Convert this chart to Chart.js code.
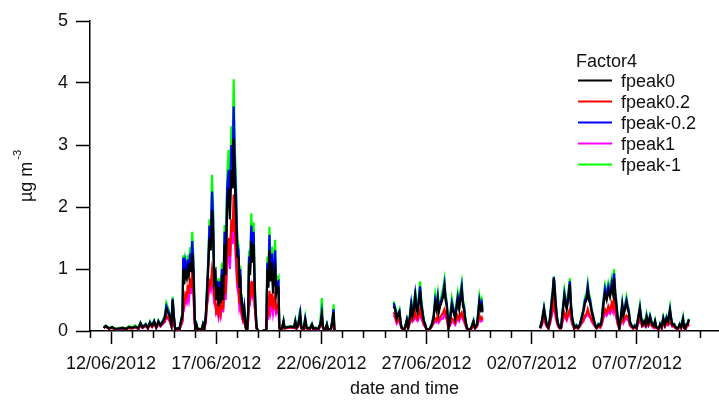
<!DOCTYPE html>
<html>
<head>
<meta charset="utf-8">
<script src="https://cdn.jsdelivr.net/npm/chart.js@4.4.0/dist/chart.umd.min.js"></script>
<style>
  html, body { margin: 0; padding: 0; background: #fff; }
  #wrap { width: 719px; height: 402px; position: relative; }
</style>
</head>
<body>
<div id="wrap"><canvas id="chart"></canvas></div>
<script>
// DATI - giorni dal 11/06/2012 00:00, null = interruzione della serie
const days = [
  0.65,0.75,0.90,1.05,1.20,1.40,1.55,1.70,1.85,2.00,
  2.15,2.30,2.40,2.50,2.65,2.75,2.85,2.95,3.05,3.15,
  3.25,3.35,3.45,3.55,3.63,3.70,3.80,3.87,3.93,3.98,
  4.05,4.15,4.25,4.33,4.40,4.43,4.48,4.53,4.60,4.65,
  4.70,4.76,4.80,4.86,4.92,4.97,5.00,5.06,5.12,5.20,
  5.30,5.37,5.43,5.50,5.56,5.62,5.68,5.74,5.80,5.85,
  5.90,5.96,6.00,6.06,6.11,6.16,6.21,6.27,6.33,6.40,
  6.45,6.52,6.59,6.65,6.72,6.78,6.83,6.88,6.94,7.00,
  7.06,7.10,7.14,7.18,7.22,7.28,7.33,7.38,7.41,7.47,
  7.52,7.56,7.61,7.67,7.72,7.78,7.82,7.86,7.92,8.00,
  8.20,8.38,8.43,8.48,8.53,8.58,8.65,8.70,8.75,8.80,
  8.85,8.90,8.96,9.00,9.05,9.13,9.20,9.25,9.40,9.55,
  9.70,9.76,9.82,9.90,9.99,10.05,10.15,10.23,10.30,10.45,
  10.55,10.62,10.70,10.85,10.95,11.02,11.08,11.18,11.26,11.32,
  11.45,11.52,11.58,11.62,13.00,
  14.43,14.50,14.58,14.65,14.71,14.78,14.82,14.95,15.06,15.12,
  15.20,15.27,15.33,15.40,15.46,15.52,15.57,15.63,15.69,15.75,
  15.80,15.87,15.93,16.00,16.15,16.25,16.33,16.41,16.47,16.53,
  16.58,16.64,16.70,16.78,16.85,16.90,16.96,17.04,17.10,17.20,
  17.28,17.36,17.42,17.48,17.55,17.60,17.67,17.73,17.78,17.83,
  17.91,18.00,18.10,18.23,18.30,18.40,18.45,18.51,18.57,18.62,
  18.66,20.00,
  21.40,21.48,21.58,21.65,21.71,21.79,21.87,21.95,22.00,22.05,
  22.10,22.14,22.20,22.26,22.33,22.39,22.47,22.55,22.60,22.66,
  22.73,22.81,22.86,22.92,23.02,23.12,23.20,23.29,23.37,23.45,
  23.53,23.60,23.66,23.72,23.77,23.85,23.93,24.00,24.08,24.17,
  24.25,24.32,24.40,24.48,24.56,24.64,24.72,24.80,24.86,24.91,
  24.97,25.04,25.08,25.16,25.23,25.30,25.36,25.43,25.50,25.56,
  25.61,25.66,25.71,25.82,25.90,25.98,26.06,26.14,26.20,26.25,
  26.35,26.41,26.46,26.54,26.62,26.68,26.73,26.80,26.86,26.92,
  26.97,27.04,27.10,27.17,27.25,27.33,27.41,27.48,27.57,27.62,
  27.68,27.77,27.83,27.88,27.95,28.03,28.10,28.19,28.25,28.30,
  28.36,28.42,28.47
];

const fpeak0 = [
  .05,.08,.04,.06,.03,.04,.05,.03,.06,.05,
  .07,.04,.12,.06,.10,.05,.13,.08,.15,.06,
  .15,.09,.14,.20,.35,.30,.22,.10,.50,.25,
  .02,.04,.03,.15,.25,1.00,.75,.95,.85,1.00,
  .90,1.10,.95,1.25,.90,.30,.05,.10,.02,.03,
  .02,.10,.03,.20,.60,1.00,1.50,1.30,1.95,1.60,
  .80,.90,.50,.65,.40,.70,.45,.90,.50,1.40,
  .90,2.00,2.30,1.80,2.60,2.30,3.10,2.40,1.90,1.20,
  1.20,.70,.90,.50,.40,.25,.35,.15,.05,.00,
  .30,1.10,.90,1.45,1.10,1.40,.80,.40,.05,.00,
  .00,.02,1.00,.70,1.30,.80,1.10,.60,.90,1.00,
  .60,.70,.70,.05,.02,.05,.15,.05,.06,.07,
  .06,.15,.05,.10,.25,.05,.03,.18,.05,.04,
  .10,.03,.05,.03,.10,.25,.05,.02,.10,.02,
  .03,.15,.30,.00,null,
  .40,.35,.20,.25,.30,.10,.05,.02,.17,.05,
  .20,.40,.25,.35,.55,.35,.30,.45,.65,.40,
  .30,.15,.10,.02,.03,.10,.20,.45,.35,.50,
  .30,.40,.45,.55,.70,.50,.40,.05,.15,.40,
  .30,.20,.35,.50,.35,.50,.65,.40,.35,.20,
  .05,.02,.03,.15,.05,.10,.25,.45,.35,.40,
  .30,null,
  .05,.15,.35,.20,.10,.05,.20,.45,.60,.85,
  .60,.40,.20,.10,.05,.05,.30,.55,.45,.35,
  .50,.75,.40,.20,.05,.08,.05,.10,.20,.30,
  .45,.50,.65,.50,.45,.30,.20,.10,.05,.10,
  .08,.15,.40,.60,.50,.65,.55,.70,.60,.85,
  .55,.35,.20,.05,.20,.40,.25,.35,.45,.35,
  .30,.15,.10,.05,.08,.05,.20,.35,.20,.10,
  .15,.10,.22,.12,.22,.15,.10,.08,.15,.06,
  .05,.04,.10,.06,.20,.10,.20,.15,.32,.20,
  .10,.10,.06,.05,.04,.10,.06,.18,.05,.04,
  .10,.12,.18
];

const fpeak02 = [
  .05,.07,.04,.05,.03,.04,.05,.03,.05,.04,
  .06,.04,.10,.05,.09,.04,.11,.07,.12,.05,
  .12,.08,.12,.16,.25,.22,.16,.08,.35,.18,
  .02,.03,.03,.10,.18,.55,.45,.60,.55,.75,
  .60,.85,.70,.95,.65,.20,.04,.08,.02,.03,
  .02,.08,.03,.15,.45,.65,.80,.75,1.00,.90,
  .55,.50,.32,.40,.28,.40,.30,.55,.35,.90,
  .60,1.30,1.50,1.20,1.80,1.60,2.20,1.70,1.30,.80,
  .75,.45,.55,.35,.28,.18,.25,.12,.04,.00,
  .20,.65,.55,.80,.65,.80,.50,.28,.04,.00,
  .00,.02,.35,.30,.65,.40,.60,.35,.50,.60,
  .35,.40,.45,.04,.02,.04,.12,.04,.05,.06,
  .05,.12,.04,.08,.18,.04,.03,.13,.04,.03,
  .08,.03,.04,.03,.08,.18,.04,.02,.08,.02,
  .03,.11,.20,.00,null,
  .30,.25,.15,.18,.20,.08,.04,.02,.12,.04,
  .14,.25,.18,.22,.30,.22,.20,.28,.35,.25,
  .20,.11,.08,.02,.03,.08,.14,.20,.18,.25,
  .18,.22,.25,.30,.35,.28,.22,.04,.10,.20,
  .18,.13,.20,.25,.20,.26,.30,.22,.20,.13,
  .04,.02,.03,.10,.04,.08,.16,.25,.20,.22,
  .18,null,
  .04,.11,.25,.14,.08,.04,.14,.30,.38,.50,
  .38,.26,.14,.08,.04,.04,.18,.30,.26,.20,
  .28,.35,.24,.13,.04,.06,.04,.08,.14,.18,
  .25,.28,.35,.28,.25,.18,.13,.08,.04,.08,
  .06,.11,.24,.35,.30,.40,.33,.45,.38,.55,
  .35,.22,.13,.04,.14,.25,.16,.22,.25,.22,
  .19,.11,.08,.04,.06,.04,.14,.20,.14,.08,
  .11,.08,.15,.09,.15,.11,.08,.06,.11,.05,
  .04,.03,.08,.05,.14,.08,.14,.11,.15,.13,
  .08,.08,.05,.04,.03,.08,.05,.13,.04,.03,
  .08,.09,.12
];

const fpeakM02 = [
  .05,.08,.04,.06,.03,.04,.05,.03,.06,.05,
  .07,.04,.13,.06,.11,.05,.14,.08,.16,.06,
  .16,.10,.15,.22,.40,.34,.25,.11,.52,.27,
  .02,.04,.03,.17,.28,1.18,.85,1.10,.95,1.15,
  1.00,1.25,1.08,1.45,1.05,.35,.05,.11,.02,.03,
  .02,.11,.03,.22,.65,1.10,1.70,1.45,2.25,1.85,
  .90,.95,.55,.80,.45,.80,.50,1.00,.58,1.60,
  1.05,2.30,2.60,2.05,3.00,2.70,3.62,2.80,2.20,1.40,
  1.30,.80,1.00,.55,.45,.28,.40,.17,.05,.00,
  .34,1.20,1.00,1.70,1.25,1.60,.90,.45,.05,.00,
  .00,.02,1.10,.78,1.55,.90,1.25,.70,1.05,1.30,
  .70,.78,.80,.05,.02,.05,.16,.05,.06,.07,
  .06,.16,.05,.11,.30,.05,.03,.20,.05,.04,
  .11,.03,.05,.03,.12,.30,.05,.02,.11,.02,
  .03,.17,.35,.00,null,
  .45,.38,.22,.28,.32,.11,.05,.02,.18,.05,
  .22,.45,.28,.40,.60,.40,.33,.50,.72,.45,
  .33,.16,.11,.02,.03,.11,.22,.50,.40,.55,
  .34,.44,.50,.60,.76,.55,.44,.05,.16,.46,
  .34,.22,.40,.55,.40,.56,.72,.45,.39,.22,
  .05,.02,.03,.16,.05,.11,.28,.50,.39,.45,
  .34,null,
  .05,.16,.37,.22,.11,.05,.22,.50,.65,.87,
  .65,.44,.22,.11,.05,.05,.33,.60,.50,.39,
  .55,.80,.44,.22,.05,.09,.05,.11,.22,.33,
  .50,.55,.72,.55,.50,.33,.22,.11,.05,.11,
  .09,.16,.45,.68,.56,.72,.62,.78,.68,.93,
  .61,.39,.22,.05,.22,.44,.28,.39,.50,.39,
  .33,.16,.11,.05,.09,.05,.22,.38,.22,.11,
  .16,.11,.24,.13,.24,.16,.11,.09,.16,.06,
  .05,.04,.11,.06,.21,.11,.22,.16,.35,.22,
  .11,.11,.06,.05,.04,.11,.06,.20,.05,.04,
  .11,.13,.19
];

const fpeak1 = [
  .05,.07,.04,.05,.03,.03,.04,.03,.05,.04,
  .06,.03,.09,.05,.08,.04,.10,.06,.11,.05,
  .11,.07,.11,.14,.22,.20,.15,.07,.30,.16,
  .02,.03,.02,.09,.15,.45,.38,.50,.45,.60,
  .50,.70,.60,.85,.55,.18,.04,.07,.02,.02,
  .02,.07,.02,.13,.40,.55,.70,.65,.90,.75,
  .45,.40,.28,.30,.22,.35,.25,.45,.30,.75,
  .50,1.10,1.30,1.00,1.55,1.40,1.90,1.50,1.10,.70,
  .60,.38,.45,.30,.22,.15,.20,.10,.04,.00,
  .18,.55,.48,.70,.58,.70,.42,.25,.04,.00,
  .00,.02,.25,.22,.45,.30,.45,.28,.40,.45,
  .28,.32,.35,.04,.02,.04,.10,.04,.05,.05,
  .05,.10,.04,.07,.15,.04,.02,.11,.04,.03,
  .07,.02,.04,.02,.07,.15,.04,.02,.07,.02,
  .02,.10,.17,.00,null,
  .25,.22,.12,.15,.17,.07,.04,.02,.10,.04,
  .12,.20,.15,.18,.25,.18,.16,.22,.30,.20,
  .16,.09,.07,.02,.02,.07,.12,.15,.14,.20,
  .14,.17,.20,.20,.30,.22,.18,.04,.08,.15,
  .14,.10,.16,.20,.16,.22,.25,.18,.16,.10,
  .04,.02,.02,.08,.04,.07,.13,.20,.16,.18,
  .15,null,
  .04,.09,.20,.12,.07,.04,.12,.25,.32,.40,
  .32,.22,.12,.07,.04,.04,.15,.25,.22,.17,
  .24,.30,.20,.11,.04,.05,.04,.07,.12,.15,
  .22,.24,.30,.24,.22,.15,.11,.07,.04,.07,
  .05,.09,.20,.30,.25,.32,.28,.35,.30,.45,
  .28,.18,.11,.04,.12,.20,.13,.18,.20,.18,
  .16,.09,.07,.04,.05,.04,.12,.15,.12,.07,
  .09,.07,.12,.08,.12,.09,.07,.05,.09,.04,
  .04,.03,.07,.04,.12,.07,.12,.09,.12,.11,
  .07,.07,.04,.04,.03,.07,.04,.11,.04,.03,
  .07,.08,.10
];

const fpeakM1 = [
  .06,.09,.05,.07,.04,.05,.06,.04,.08,.06,
  .09,.05,.14,.07,.12,.06,.16,.09,.17,.07,
  .17,.10,.16,.25,.45,.38,.28,.12,.55,.30,
  .03,.05,.04,.19,.31,1.22,.90,1.15,1.00,1.22,
  1.08,1.35,1.15,1.60,1.15,.40,.06,.12,.03,.04,
  .03,.12,.04,.25,.70,1.15,1.80,1.60,2.52,2.00,
  .98,1.00,.60,.85,.50,.85,.55,1.10,.62,1.71,
  1.15,2.50,2.92,2.30,3.30,3.00,4.06,3.00,2.40,1.50,
  1.39,.85,1.05,.60,.50,.30,.45,.19,.06,.01,
  .38,1.30,1.10,1.90,1.40,1.75,1.00,.50,.06,.00,
  .00,.02,1.20,.85,1.68,.98,1.36,.75,1.15,1.47,
  .78,.85,.88,.06,.03,.06,.18,.06,.07,.08,
  .07,.18,.06,.12,.37,.06,.04,.23,.06,.05,
  .12,.04,.06,.04,.15,.53,.06,.03,.12,.03,
  .04,.20,.43,.01,null,
  .48,.40,.24,.30,.35,.12,.06,.03,.19,.06,
  .25,.51,.30,.44,.67,.44,.36,.55,.80,.50,
  .36,.18,.12,.03,.04,.12,.25,.58,.44,.60,
  .38,.48,.55,.68,.83,.60,.48,.06,.18,.53,
  .38,.25,.45,.61,.44,.62,.78,.50,.43,.25,
  .06,.03,.04,.18,.06,.12,.31,.56,.43,.50,
  .38,null,
  .06,.18,.39,.24,.12,.06,.25,.55,.70,.88,
  .68,.46,.24,.12,.06,.06,.36,.66,.55,.42,
  .60,.85,.48,.24,.06,.10,.06,.12,.24,.36,
  .55,.60,.77,.60,.54,.36,.24,.12,.06,.12,
  .10,.18,.50,.74,.62,.78,.68,.85,.74,1.00,
  .66,.42,.24,.06,.24,.47,.30,.42,.55,.42,
  .36,.18,.12,.06,.10,.06,.24,.42,.24,.12,
  .18,.12,.27,.14,.26,.18,.12,.10,.18,.07,
  .06,.05,.12,.07,.23,.12,.24,.18,.39,.24,
  .12,.12,.07,.06,.05,.12,.07,.23,.06,.05,
  .12,.14,.20
];

// etichette serie e assi
const seriesNames = ['fpeak0', 'fpeak0.2', 'fpeak-0.2', 'fpeak1', 'fpeak-1'];
const seriesColors = ['#000000', '#ff0000', '#0000ff', '#ff00ff', '#00ff00'];
const legendTitle = 'Factor4';
const tickDays = [1, 6, 11, 16, 21, 26];
const tickLabels = ['12/06/2012', '17/06/2012', '22/06/2012', '27/06/2012', '02/07/2012', '07/07/2012'];
const yTicks = [0, 1, 2, 3, 4, 5];
const xTitle = 'date and time';
const yTitle = 'µg m';
const yTitleSup = '-3';

// --------------------
const FONT = '"Liberation Sans", Arial, sans-serif';
Chart.defaults.font.family = FONT;
Chart.defaults.font.size = 18;
Chart.defaults.color = '#111';

function toPoints(vals) {
    return days.map((d, i) => ({ x: d, y: vals[i] }));
}

const allSeries = [fpeak0, fpeak02, fpeakM02, fpeak1, fpeakM1];

// tacche minori (un giorno) sull'asse x
const minorTicks = {
    id: 'minorTicks',
    afterDatasetsDraw(chart) {
        const x = chart.scales.x;
        const ctx = chart.ctx;
        ctx.save();
        ctx.strokeStyle = '#000';
        ctx.lineWidth = 1.5;
        for (let d = Math.ceil(x.min); d <= x.max; d++) {
            if (tickDays.includes(d)) continue;
            const px = Math.round(x.getPixelForValue(d)) + 0.5;
            ctx.beginPath();
            ctx.moveTo(px, x.top);
            ctx.lineTo(px, x.top + 7);
            ctx.stroke();
        }
        ctx.restore();
    }
};

// titolo asse y con apice
const yAxisTitle = {
    id: 'yAxisTitle',
    afterDraw(chart) {
        const ctx = chart.ctx;
        const area = chart.chartArea;
        ctx.save();
        ctx.fillStyle = '#111';
        ctx.font = '18px ' + FONT;
        const w1 = ctx.measureText(yTitle).width;
        ctx.font = '11px ' + FONT;
        const w2 = ctx.measureText(yTitleSup).width;
        const total = w1 + 2 + w2;
        const cy = (area.top + area.bottom) / 2;
        ctx.translate(32, cy + total / 2);
        ctx.rotate(-Math.PI / 2);
        ctx.textBaseline = 'alphabetic';
        ctx.textAlign = 'left';
        ctx.font = '18px ' + FONT;
        ctx.fillText(yTitle, 0, 0);
        ctx.font = '11px ' + FONT;
        ctx.fillText(yTitleSup, w1 + 2, -11);
        ctx.restore();
    }
};

// legenda dentro il grafico
const boxLegend = {
    id: 'boxLegend',
    afterDraw(chart) {
        const ctx = chart.ctx;
        const lx = 578, tx = 621, y0 = 80.5, step = 21;
        ctx.save();
        ctx.font = '18px ' + FONT;
        ctx.fillStyle = '#111';
        ctx.textBaseline = 'alphabetic';
        ctx.textAlign = 'left';
        ctx.fillText(legendTitle, 576, 67);
        chart.data.datasets.forEach((ds, i) => {
            const y = y0 + i * step;
            ctx.strokeStyle = ds.borderColor;
            ctx.lineWidth = 2;
            ctx.beginPath();
            ctx.moveTo(lx, y);
            ctx.lineTo(lx + 34, y);
            ctx.stroke();
            ctx.fillText(ds.label, tx, y + 6.5);
        });
        ctx.restore();
    }
};

const chart = new Chart(document.getElementById('chart'), {
    type: 'line',
    data: {
        datasets: seriesNames.map((name, i) => ({
            label: name,
            data: toPoints(allSeries[i]),
            borderColor: seriesColors[i],
            backgroundColor: seriesColors[i],
            borderWidth: 2.2,
            pointRadius: 0,
            tension: 0,
            spanGaps: false
        }))
    },
    options: {
        responsive: true,
        maintainAspectRatio: false,
        animation: false,
        events: [],
        layout: { padding: { top: 21, left: 0, right: 0, bottom: 0 } },
        plugins: {
            legend: { display: false },
            tooltip: { enabled: false }
        },
        scales: {
            x: {
                type: 'linear',
                min: 0,
                max: 29.9,
                afterFit(scale) { scale.height = 71; },
                afterBuildTicks(scale) {
                    scale.ticks = tickDays.map(v => ({ value: v }));
                },
                ticks: {
                    autoSkip: false,
                    maxRotation: 0,
                    padding: 9,
                    color: '#111',
                    font: { size: 18 },
                    callback: (v) => tickLabels[tickDays.indexOf(v)]
                },
                grid: {
                    drawOnChartArea: false,
                    drawTicks: true,
                    tickLength: 13,
                    tickColor: '#000',
                    tickWidth: 1.5
                },
                border: { display: true, color: '#000', width: 1.5 },
                title: {
                    display: true,
                    text: xTitle,
                    color: '#111',
                    font: { size: 18 },
                    padding: { top: 0, bottom: 2 }
                }
            },
            y: {
                min: 0,
                max: 5,
                afterFit(scale) { scale.width = 90; },
                afterBuildTicks(scale) {
                    scale.ticks = yTicks.map(v => ({ value: v }));
                },
                ticks: {
                    padding: 8,
                    color: '#111',
                    font: { size: 18 }
                },
                grid: {
                    drawOnChartArea: false,
                    drawTicks: true,
                    tickLength: 14,
                    tickColor: '#000',
                    tickWidth: 1.5
                },
                border: { display: true, color: '#000', width: 1.5 }
            }
        }
    },
    plugins: [minorTicks, yAxisTitle, boxLegend]
});
</script>
</body>
</html>
